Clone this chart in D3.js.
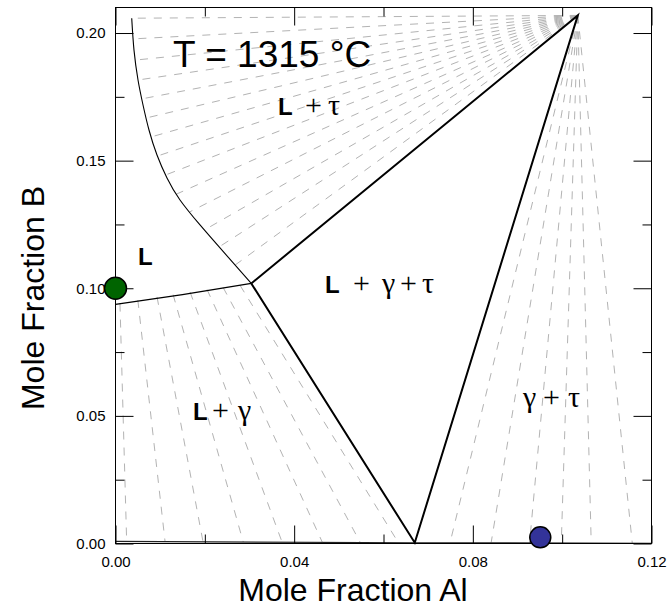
<!DOCTYPE html>
<html>
<head>
<meta charset="utf-8">
<script src="https://cdn.jsdelivr.net/npm/d3@7"></script>
<style>
  body { margin: 0; background: #fff; }
  svg { display: block; }
</style>
</head>
<body>
<svg id="chart" width="670" height="608"></svg>
<script>
// Isothermal section at 1315 °C: phase boundaries and tie lines (x = Al, y = B mole fractions)

const xDomain = [0, 0.12];
const yDomain = [0, 0.21];
const xMajorTicks = [0, 0.04, 0.08, 0.12];
const xMinorTicks = [0.02, 0.06, 0.10];
const yMajorTicks = [0, 0.05, 0.10, 0.15, 0.20];
const yMinorTicks = [0.025, 0.075, 0.125, 0.175];

// Corners of the L + γ + τ triangle
const vertexL = [0.0304, 0.1019];
const vertexGamma = [0.0670, 0.0003];
const vertexTau = [0.1035, 0.2069];

// Liquidus in equilibrium with τ
const liquidusTau = [
  [0.00363, 0.2058], [0.00414, 0.1933], [0.00504, 0.1816], [0.00616, 0.1718],
  [0.0075, 0.1620], [0.00929, 0.1522], [0.01153, 0.1432], [0.01444, 0.1346],
  [0.01892, 0.1248], [0.0234, 0.1158], [0.0304, 0.1019]
];
// Liquidus in equilibrium with γ
const liquidusGamma = [[0, 0.0937], [0.0150, 0.0975], [0.0304, 0.1019]];
// γ phase boundary along the Al axis
const gammaBoundary = [[0, 0.0008], [0.0670, 0.0003], [0.12, 0.0001]];

// L + τ tie lines: liquid ends (the other end is τ)
const tieLTauLiquid = [
  [0.00363, 0.2058], [0.00396, 0.1977], [0.00443, 0.1894], [0.00504, 0.1816],
  [0.00589, 0.1742], [0.00685, 0.1667], [0.00799, 0.1593], [0.00938, 0.1518],
  [0.01124, 0.1444], [0.01366, 0.1369], [0.01659, 0.1299], [0.01988, 0.1228],
  [0.0232, 0.1162], [0.02678, 0.1091]
];
// L + γ tie lines: liquid ends and γ ends
const tieLGammaLiquid = [
  [0.0010, 0.0940], [0.0050, 0.0954], [0.0093, 0.0966], [0.0129, 0.0975],
  [0.0167, 0.0985], [0.0205, 0.0995], [0.0241, 0.1003], [0.0279, 0.1011]
];
const tieLGammaSolid = [
  [0.0025, 0.0007], [0.0111, 0.0007], [0.0196, 0.0006], [0.0286, 0.0006],
  [0.0373, 0.0005], [0.0463, 0.0005], [0.0548, 0.0004], [0.0633, 0.0004]
];
// γ + τ tie lines: γ ends (the other end is τ)
const tieGammaTauSolid = [
  [0.0749, 0.0003], [0.0841, 0.0003], [0.0927, 0.0002],
  [0.0998, 0.0002], [0.1065, 0.0002], [0.1157, 0.0001]
];

// Marked alloy compositions
const greenPoint = [0, 0.10];
const bluePoint = [0.0951, 0.0024];

const svg = d3.select('#chart');
const x = d3.scaleLinear().domain(xDomain).range([115.5, 651.5]);
const y = d3.scaleLinear().domain(yDomain).range([543.5, 7.5]);
const line = d3.line().x(d => x(d[0])).y(d => y(d[1]));
const smoothLine = d3.line().x(d => x(d[0])).y(d => y(d[1])).curve(d3.curveNatural);

const SANS = '"Liberation Sans", Arial, Helvetica, sans-serif';
const SERIF = '"Liberation Serif", "Times New Roman", serif';

// Tie lines
const tieG = svg.append('g')
  .attr('fill', 'none')
  .attr('stroke', '#b3b3b3')
  .attr('stroke-width', 1)
  .attr('stroke-dasharray', '8,8');

tieG.selectAll('path.lt')
  .data(tieLTauLiquid)
  .join('path')
  .attr('class', 'lt')
  .attr('d', d => line([vertexTau, d]));

tieG.selectAll('path.lg')
  .data(d3.zip(tieLGammaLiquid, tieLGammaSolid))
  .join('path')
  .attr('class', 'lg')
  .attr('d', d => line(d));

tieG.selectAll('path.gt')
  .data(tieGammaTauSolid)
  .join('path')
  .attr('class', 'gt')
  .attr('d', d => line([vertexTau, d]));

// Phase boundaries
svg.append('path')
  .attr('d', smoothLine(liquidusTau))
  .attr('fill', 'none').attr('stroke', '#000').attr('stroke-width', 1.1);

svg.append('path')
  .attr('d', line(liquidusGamma))
  .attr('fill', 'none').attr('stroke', '#000').attr('stroke-width', 1.1);

svg.append('path')
  .attr('d', line(gammaBoundary))
  .attr('fill', 'none').attr('stroke', '#222').attr('stroke-width', 1.2);

// Three-phase triangle
svg.append('path')
  .attr('d', line([vertexL, vertexTau, vertexGamma, vertexL]))
  .attr('fill', 'none').attr('stroke', '#000').attr('stroke-width', 2).attr('stroke-linejoin', 'miter');

// Frame and ticks
const [x0, x1] = x.range();
const [yb, yt] = y.range();
svg.append('rect')
  .attr('x', x0).attr('y', yt)
  .attr('width', x1 - x0).attr('height', yb - yt)
  .attr('fill', 'none').attr('stroke', '#000').attr('stroke-width', 1);

const fmt = d3.format('.2f');
function drawAxis(gen, transform) {
  const g = svg.append('g').attr('transform', transform).call(gen);
  g.select('.domain').remove();
  g.selectAll('.tick line').attr('stroke', '#000');
  g.selectAll('.tick text')
    .attr('font-family', SANS).attr('font-size', 15).attr('fill', '#000');
  return g;
}
drawAxis(d3.axisBottom(x).tickValues(xMajorTicks).tickSize(-18).tickPadding(13).tickFormat(fmt), `translate(0,${yb})`);
drawAxis(d3.axisBottom(x).tickValues(xMinorTicks).tickSize(-9).tickFormat(''), `translate(0,${yb})`);
drawAxis(d3.axisTop(x).tickValues(xMajorTicks).tickSize(-18).tickFormat(''), `translate(0,${yt})`);
drawAxis(d3.axisTop(x).tickValues(xMinorTicks).tickSize(-9).tickFormat(''), `translate(0,${yt})`);
drawAxis(d3.axisLeft(y).tickValues(yMajorTicks).tickSize(-18).tickPadding(10).tickFormat(fmt), `translate(${x0},0)`);
drawAxis(d3.axisLeft(y).tickValues(yMinorTicks).tickSize(-9).tickFormat(''), `translate(${x0},0)`);
drawAxis(d3.axisRight(y).tickValues(yMajorTicks).tickSize(-18).tickFormat(''), `translate(${x1},0)`);
drawAxis(d3.axisRight(y).tickValues(yMinorTicks).tickSize(-9).tickFormat(''), `translate(${x1},0)`);

// Axis titles
svg.append('text')
  .attr('x', 353).attr('y', 601)
  .attr('text-anchor', 'middle')
  .attr('font-family', SANS).attr('font-size', 32)
  .text('Mole Fraction Al');
svg.append('text')
  .attr('transform', 'translate(44,298) rotate(-90)')
  .attr('text-anchor', 'middle')
  .attr('font-family', SANS).attr('font-size', 32)
  .text('Mole Fraction B');

// Temperature label
svg.append('text')
  .attr('x', 173).attr('y', 67)
  .attr('font-family', SANS).attr('font-size', 37)
  .text('T = 1315 °C');

// Phase field labels: each piece is [text, x offset, bold sans?]
const phaseLabels = [
  { x: 278, y: 115, parts: [['L', 0, true], ['+', 27, false], ['τ', 50, false]] },
  { x: 138, y: 265, parts: [['L', 0, true]] },
  { x: 325, y: 293, parts: [['L', 0, true], ['+', 28, false], ['γ', 57, false], ['+', 75, false], ['τ', 97, false]] },
  { x: 193, y: 420, parts: [['L', 0, true], ['+', 19, false], ['γ', 45, false]] },
  { x: 523, y: 407, parts: [['γ', 0, false], ['+', 20, false], ['τ', 45, false]] }
];
phaseLabels.forEach(lab => {
  const t = svg.append('text').attr('y', lab.y);
  lab.parts.forEach(([s, dx, bold]) => {
    t.append('tspan')
      .attr('x', lab.x + dx)
      .attr('font-family', bold ? SANS : SERIF)
      .attr('font-weight', bold ? 'bold' : 'normal')
      .attr('font-size', bold ? 24 : 30)
      .text(s);
  });
});

// Marked compositions
svg.append('circle')
  .attr('cx', x(greenPoint[0])).attr('cy', y(greenPoint[1])).attr('r', 11)
  .attr('fill', '#006400').attr('stroke', '#000').attr('stroke-width', 1.5);
svg.append('circle')
  .attr('cx', x(bluePoint[0])).attr('cy', y(bluePoint[1])).attr('r', 10.5)
  .attr('fill', '#333399').attr('stroke', '#000').attr('stroke-width', 1.5);
</script>
</body>
</html>
